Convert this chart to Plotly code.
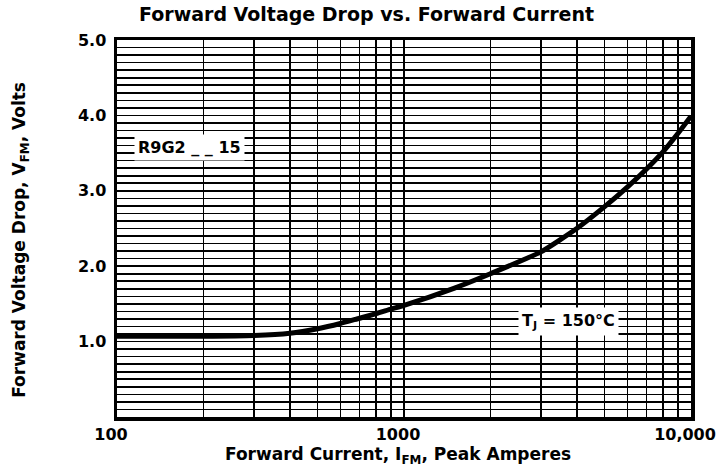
import plotly.graph_objects as go

# Data
current_a = [100, 200, 300, 400, 500, 600, 700, 800, 900, 1000, 1500, 2000,
             3000, 4000, 5000, 6000, 7000, 8000, 9000, 10000]
voltage_v = [1.07, 1.07, 1.08, 1.11, 1.17, 1.24, 1.31, 1.37, 1.43, 1.48, 1.71, 1.90,
             2.19, 2.50, 2.79, 3.05, 3.29, 3.52, 3.76, 3.99]

x_tick_vals = [100, 1000, 10000]
x_tick_text = ["100", "1000", "10,000"]
x_minor_vals = [200, 300, 400, 500, 600, 700, 800, 900,
                2000, 3000, 4000, 5000, 6000, 7000, 8000, 9000]
y_tick_vals = [1, 2, 3, 4, 5]
y_tick_text = ["1.0", "2.0", "3.0", "4.0", "5.0"]

FONT = "DejaVu Sans"

fig = go.Figure()
fig.add_trace(go.Scatter(
    x=current_a, y=voltage_v, mode="lines",
    line=dict(color="black", width=5, shape="spline", smoothing=0.5),
    showlegend=False, hoverinfo="skip",
))

fig.update_layout(
    width=716, height=475,
    margin=dict(l=117, r=25, t=40, b=58),
    paper_bgcolor="white", plot_bgcolor="white",
    font=dict(family=FONT, color="black", size=16, weight="bold"),
    showlegend=False,
)

fig.update_xaxes(
    type="log", range=[2, 4], automargin=False,
    tickmode="array", tickvals=x_tick_vals, ticktext=x_tick_text,
    tickfont=dict(family=FONT, size=16, color="black", weight="bold"),
    ticks="", ticklabelstandoff=0, ticklabelshift=-6,
    ticklabeloverflow="allow",
    showgrid=True, gridcolor="black", gridwidth=1.6,
    minor=dict(tickmode="array", tickvals=x_minor_vals, showgrid=True,
               gridcolor="black", gridwidth=1.6, ticks=""),
    showline=True, linecolor="black", linewidth=3.5, mirror=True,
    zeroline=False,
)
fig.update_yaxes(
    range=[0, 5], automargin=False,
    tickmode="array", tickvals=y_tick_vals, ticktext=y_tick_text,
    tickfont=dict(family=FONT, size=16, color="black", weight="bold"),
    ticks="", ticklabelstandoff=4,
    showgrid=True, gridcolor="black", gridwidth=1.6,
    minor=dict(dtick=0.1, tick0=0, showgrid=True, gridcolor="black",
               gridwidth=1.6, ticks=""),
    showline=True, linecolor="black", linewidth=3.5, mirror=True,
    zeroline=False,
)

# Title
fig.add_annotation(
    text="Forward Voltage Drop vs. Forward Current",
    xref="paper", yref="paper", x=0.435, y=1.0, yshift=26,
    xanchor="center", yanchor="middle", showarrow=False,
    font=dict(family=FONT, size=19, color="black", weight="bold"),
)
# Axis titles
fig.add_annotation(
    text="Forward Current, I<sub>FM</sub>, Peak Amperes",
    xref="paper", yref="paper", x=0.49, y=0, yshift=-38,
    xanchor="center", yanchor="middle", showarrow=False,
    font=dict(family=FONT, size=17, color="black", weight="bold"),
)
fig.add_annotation(
    text="Forward Voltage Drop, V<sub>FM</sub>, Volts",
    xref="paper", yref="paper", x=0, y=0.47, xshift=-96,
    xanchor="center", yanchor="middle", textangle=-90, showarrow=False,
    font=dict(family=FONT, size=17, color="black", weight="bold"),
)
# In-plot labels
fig.add_annotation(
    text="R9G2 _ _ 15", x=2.252, y=3.58, xref="x", yref="y",
    showarrow=False, bgcolor="white", borderpad=3,
    font=dict(family=FONT, size=16, color="black", weight="bold"),
)
fig.add_annotation(
    text="T<sub>J</sub> = 150°C", x=3.573, y=1.27, xref="x", yref="y",
    showarrow=False, bgcolor="white", borderpad=3,
    font=dict(family=FONT, size=16, color="black", weight="bold"),
)

fig.write_html(
    "out.html",
    config={"displayModeBar": False, "staticPlot": True},
    post_script="document.body.style.margin='0';document.body.style.overflow='hidden';",
)
